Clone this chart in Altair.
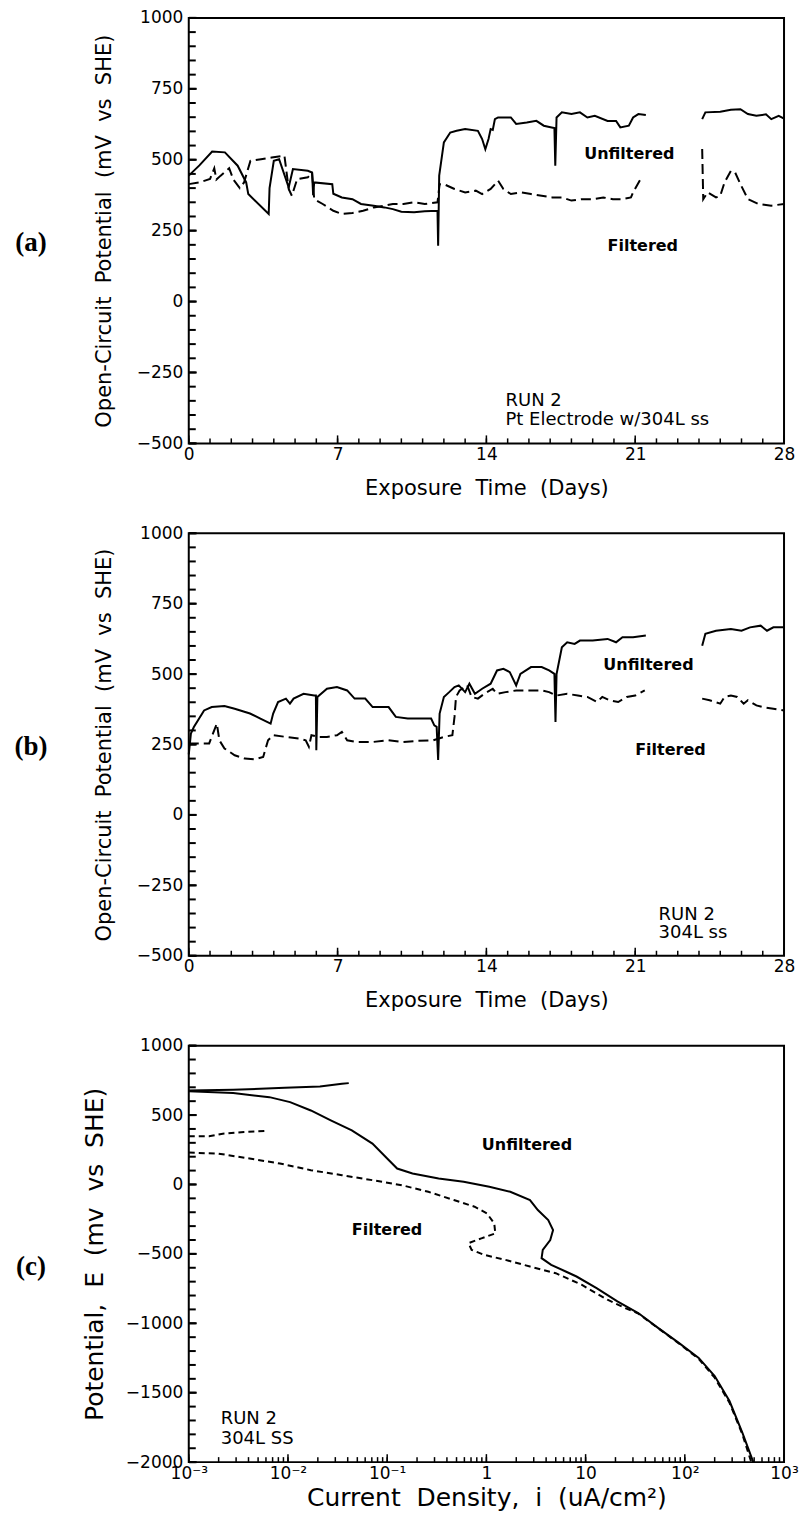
import altair as alt
import pandas as pd

FONT = "DejaVu Sans"
W = 596
SP = "\u00a0 "  # wide word gap used in the axis titles

# ---------------- (a) Pt electrode w/304L ss: open-circuit potential vs time ----------------
a_unf1_day = [0, 0.5, 1.1, 1.7, 2.3, 2.7, 2.8, 3.76, 3.8, 4.0, 4.25, 4.7, 4.9, 5.6, 5.8, 5.85, 5.9,
              6.75, 6.8, 7.2, 7.7, 8.1, 8.7, 9.2, 9.6, 10.0, 10.6, 11.1, 11.7, 11.73, 11.78, 12.0,
              12.3, 12.6, 13.0, 13.6, 13.8, 13.95, 14.1, 14.2, 14.3, 14.4, 14.55, 15.15, 15.4, 15.9,
              16.35, 16.7, 17.07, 17.2, 17.24, 17.3, 17.55, 18.0, 18.4, 18.75, 19.1, 19.7, 20.1,
              20.3, 20.7, 20.9, 21.15, 21.5]
a_unf1_mv = [444, 480, 529, 526, 479, 420, 379, 309, 400, 496, 502, 403, 467, 461, 455, 375, 420,
             414, 380, 367, 361, 344, 338, 332, 326, 317, 315, 318, 320, 197, 444, 561,
             596, 602, 608, 602, 573, 537, 573, 608, 605, 643, 649, 649, 626, 631,
             637, 620, 614, 612, 479, 649, 667, 661, 667, 649, 655, 637, 637,
             614, 620, 649, 661, 658]
a_unf2_day = [24.15, 24.3, 25.0, 25.5, 25.95, 26.3, 26.7, 27.15, 27.4, 27.75, 28.0]
a_unf2_mv = [643, 667, 669, 676, 678, 661, 655, 660, 643, 655, 645]

a_fil1_day = [0, 0.5, 1.0, 1.2, 1.3, 1.5, 1.9, 2.1, 2.4, 2.6, 2.9, 3.4, 3.9, 4.5, 4.7, 4.85, 5.1,
              5.6, 5.8, 5.9, 6.3, 6.8, 7.2, 7.7, 8.2, 8.7, 9.2, 9.6, 10.1, 10.6, 11.1, 11.7, 11.8,
              12.0, 12.5, 13.0, 13.5, 13.8, 14.2, 14.55, 14.8, 15.15, 15.6, 16.1, 16.6, 17.1,
              17.55, 18.0, 18.5, 19.0, 19.5, 19.95, 20.4, 20.8, 20.9, 21.3]
a_fil1_mv = [414, 420, 432, 470, 430, 444, 470, 430, 400, 420, 496, 502, 508, 514, 397, 373, 432,
             438, 455, 361, 344, 320, 309, 312, 320, 332, 338, 344, 344, 350, 344, 350, 414,
             414, 397, 385, 391, 379, 397, 426, 397, 379, 385, 379, 373, 367,
             367, 356, 361, 361, 367, 361, 361, 367, 385, 438]
a_fil2_day = [24.15, 24.2, 24.4, 24.8, 25.0, 25.2, 25.5, 25.7, 25.95, 26.3, 26.8, 27.4, 28.0]
a_fil2_mv = [538, 361, 385, 367, 373, 420, 461, 455, 414, 361, 344, 338, 344]

a_note_text = ["Unfiltered", "Filtered"]
a_note_day = [18.6, 19.7]
a_note_mv = [520, 197]
a_run_text = ["RUN 2", "Pt Electrode w/304L ss"]
a_run_day = [14.9, 14.9]
a_run_mv = [-349, -419]

# ---------------- (b) 304L ss: open-circuit potential vs time ----------------
b_unf1_day = [0, 0.1, 0.24, 0.72, 1.08, 1.68, 2.16, 2.88, 3.37, 3.85, 3.97, 4.2, 4.57, 4.76, 4.93,
              5.4, 5.9, 5.98, 6.0, 6.05, 6.5, 6.97, 7.45, 7.8, 8.3, 8.65, 9.4, 9.74, 10.3, 11.05,
              11.4, 11.55, 11.66, 11.73, 11.8, 12.0, 12.25, 12.5, 12.7, 13.0, 13.2, 13.46, 13.8,
              14.2, 14.5, 14.8, 15.1, 15.4, 15.6, 16.1, 16.6, 16.95, 17.2, 17.25, 17.3, 17.55,
              17.8, 18.15, 18.4, 19.0, 19.7, 20.1, 20.4, 20.9, 21.5]
b_unf1_mv = [215, 289, 312, 371, 383, 387, 377, 360, 342, 324, 360, 401, 413, 395, 413,
             430, 424, 424, 230, 419, 448, 454, 442, 413, 413, 383, 383, 348, 342, 342,
             342, 318, 313, 195, 360, 419, 436, 454, 460, 436, 466, 430, 448,
             466, 513, 519, 507, 460, 501, 525, 525, 513, 501, 330, 500, 595,
             613, 607, 619, 619, 625, 613, 631, 631, 637]
b_unf2_day = [24.15, 24.3, 24.8, 25.5, 26.0, 26.4, 26.9, 27.2, 27.5, 28.0]
b_unf2_mv = [601, 643, 654, 660, 654, 666, 672, 654, 666, 666]

b_fil1_day = [0, 0.96, 1.32, 1.44, 1.68, 2.16, 2.64, 3.1, 3.5, 3.73, 3.97, 4.57, 5.17, 5.5, 5.65,
              5.77, 6.1, 6.5, 6.97, 7.2, 7.45, 7.9, 8.65, 9.4, 10.1, 10.8, 11.5, 12.0, 12.4, 12.5,
              12.57, 12.74, 13.1, 13.3, 13.6, 13.9, 14.3, 14.5, 14.9, 15.4, 15.9, 16.6, 16.95,
              17.3, 17.8, 18.3, 18.75, 19.2, 19.45, 19.8, 20.2, 20.6, 21.0, 21.45]
b_fil1_mv = [254, 254, 324, 265, 236, 212, 200, 197, 206, 265, 283, 277, 271, 265, 242,
             283, 277, 277, 283, 295, 265, 259, 259, 265, 259, 263, 265, 277, 283, 348,
             419, 442, 460, 419, 413, 430, 448, 430, 436, 442, 442, 442, 436,
             424, 430, 424, 419, 401, 419, 407, 401, 419, 424, 442]
b_fil2_day = [24.15, 24.5, 25.0, 25.2, 25.5, 25.8, 26.1, 26.3, 26.7, 27.0, 27.5, 28.0]
b_fil2_mv = [413, 407, 395, 419, 424, 419, 395, 407, 389, 383, 377, 371]

b_note_text = ["Unfiltered", "Filtered"]
b_note_day = [19.5, 21.0]
b_note_mv = [531, 230]
b_run_text = ["RUN 2", "304L ss"]
b_run_day = [22.1, 22.1]
b_run_mv = [-354, -419]

# ---------------- (c) 304L SS: polarization curves ----------------
c_unf_anodic_i = [0.001, 0.0028, 0.0093, 0.021, 0.035, 0.041]
c_unf_anodic_mv = [677, 682, 696, 706, 725, 730]
c_unf_i = [0.001, 0.0028, 0.0065, 0.0105, 0.017, 0.027, 0.044, 0.071, 0.10, 0.126, 0.18, 0.33,
           0.59, 1.07, 1.74, 2.75, 3.3, 4.2, 4.7, 4.4, 3.7, 3.6, 4.5, 6.3, 8.1, 12.9, 20.9,
           33.9, 53.7, 87, 138, 200, 282, 380, 490]
c_unf_mv = [672, 658, 629, 593, 533, 462, 390, 294, 187, 115, 79, 43,
            19, -17, -53, -112, -184, -256, -328, -400, -471, -531, -579, -627, -663, -746, -842,
            -926, -1033, -1141, -1249, -1380, -1560, -1787, -2000]

c_fil_anodic_i = [0.001, 0.0016, 0.0022, 0.0036, 0.0059]
c_fil_anodic_mv = [347, 347, 366, 378, 385]
c_fil_i = [0.001, 0.002, 0.0041, 0.0083, 0.017, 0.035, 0.071, 0.14, 0.26, 0.47, 0.76, 1.01,
           1.2, 1.23, 0.89, 0.66, 0.71, 0.95, 1.55, 2.75, 5.0, 9.1, 16.6, 25, 34, 54, 87, 138,
           200, 282, 380, 468]
c_fil_mv = [230, 222, 187, 151, 103, 67, 31, -5, -53, -112, -160, -208,
            -280, -352, -388, -423, -471, -507, -543, -591, -639, -722, -830, -890, -930, -1036,
            -1145, -1256, -1392, -1572, -1799, -2000]

c_note_text = ["Unfiltered", "Filtered"]
c_note_i = [0.9, 0.044]
c_note_mv = [287, -328]
c_run_text = ["RUN 2", "304L SS"]
c_run_i = [0.0021, 0.0021]
c_run_mv = [-1691, -1835]

# axis tick positions and labels
t_major = [0, 7, 14, 21, 28]
t_minor = list(range(0, 29))
e_major = [-500, -250, 0, 250, 500, 750, 1000]
e_minor = list(range(-500, 1001, 50))
c_e_major = [-2000, -1500, -1000, -500, 0, 500, 1000]
c_e_minor = list(range(-2000, 1001, 100))
c_i_major = [0.001, 0.01, 0.1, 1, 10, 100, 1000]
c_i_labels = ["10\u207b\u00b3", "10\u207b\u00b2", "10\u207b\u00b9", "1", "10", "10\u00b2", "10\u00b3"]
c_i_minor = [m * d for d in [0.001, 0.01, 0.1, 1, 10, 100] for m in range(1, 10)] + [1000]


def frame(segments):
    rows, n = [], 0
    for k, (xs, ys) in enumerate(segments):
        for x, y in zip(xs, ys):
            rows.append({"x": x, "y": y, "seg": k, "i": n})
            n += 1
    return pd.DataFrame(rows)


def axis_common(**kw):
    return alt.Axis(ticks=False, domain=False, grid=False, labelFont=FONT, labelColor="black",
                    titleFont=FONT, titleColor="black", titleFontWeight="normal",
                    labelOverlap=False, labelFlush=False, **kw)


def panel(H, unf, fil, dash, xscale, yscale, xaxis, yaxis, notes, runs,
          x_major, x_minor, y_major, y_minor, letter, letter_y, note_size=16):
    # every layer carries the same axis definition so the shared axes merge cleanly
    X = lambda f: alt.X(f, scale=xscale, axis=xaxis)
    Y = lambda f: alt.Y(f, scale=yscale, axis=yaxis)
    solid = alt.Chart(frame(unf)).mark_line(color="black", strokeWidth=2).encode(
        x=X("x:Q"), y=Y("y:Q"), detail="seg:N", order="i:Q")
    dashed = alt.Chart(frame(fil)).mark_line(color="black", strokeWidth=2, strokeDash=dash).encode(
        x=X("x:Q"), y=Y("y:Q"), detail="seg:N", order="i:Q")

    ytick_major = alt.Chart(pd.DataFrame({"y": y_major})).mark_rule(color="black", strokeWidth=2).encode(
        y=Y("y:Q"), x=alt.value(0), x2=alt.value(8))
    ytick_minor = alt.Chart(pd.DataFrame({"y": y_minor})).mark_rule(color="black", strokeWidth=2).encode(
        y=Y("y:Q"), x=alt.value(0), x2=alt.value(7))
    xtick_major = alt.Chart(pd.DataFrame({"x": x_major})).mark_rule(color="black", strokeWidth=1.5).encode(
        x=X("x:Q"), y=alt.value(H), y2=alt.value(H - 8))
    xtick_minor = alt.Chart(pd.DataFrame({"x": x_minor})).mark_rule(color="black", strokeWidth=1.5).encode(
        x=X("x:Q"), y=alt.value(H), y2=alt.value(H - 5))

    nt, nx, ny = notes
    note_layer = alt.Chart(pd.DataFrame({"t": nt, "x": nx, "y": ny})).mark_text(
        align="left", baseline="middle", font=FONT, fontSize=note_size, fontWeight="bold",
        color="black").encode(x=X("x:Q"), y=Y("y:Q"), text="t:N")
    rt, rx, ry = runs
    run_layer = alt.Chart(pd.DataFrame({"t": rt, "x": rx, "y": ry})).mark_text(
        align="left", baseline="middle", font=FONT, fontSize=18, color="black").encode(
        x=X("x:Q"), y=Y("y:Q"), text="t:N")
    letter_layer = alt.Chart(pd.DataFrame({"t": [letter]})).mark_text(
        font="Liberation Serif", fontSize=27, fontWeight="bold", color="black").encode(
        x=alt.value(-158), y=alt.value(letter_y), text="t:N")

    return alt.layer(solid, dashed, ytick_major, ytick_minor, xtick_major, xtick_minor,
                     note_layer, run_layer, letter_layer).properties(width=W, height=H)


time_scale = alt.Scale(domain=[0, 28], nice=False, zero=False)
pot_scale = alt.Scale(domain=[-500, 1000], nice=False, zero=False)

time_axis = axis_common(values=t_major, format="d", title=SP.join(["Exposure", "Time", "(Days)"]),
                        labelFontSize=17, labelPadding=3, titleFontSize=21, titlePadding=15)
pot_axis = axis_common(values=e_major, format="d",
                       title=SP.join(["Open-Circuit", "Potential", "(mV", "vs", "SHE)"]),
                       labelFontSize=17, labelPadding=6, titleFontSize=21, titlePadding=22)

pa = panel(426,
           [(a_unf1_day, a_unf1_mv), (a_unf2_day, a_unf2_mv)],
           [(a_fil1_day, a_fil1_mv), (a_fil2_day, a_fil2_mv)],
           [10, 5], time_scale, pot_scale, time_axis, pot_axis,
           (a_note_text, a_note_day, a_note_mv), (a_run_text, a_run_day, a_run_mv),
           t_major, t_minor, e_major, e_minor, "(a)", 225)

pb = panel(423,
           [(b_unf1_day, b_unf1_mv), (b_unf2_day, b_unf2_mv)],
           [(b_fil1_day, b_fil1_mv), (b_fil2_day, b_fil2_mv)],
           [10, 5], time_scale, pot_scale, time_axis, pot_axis,
           (b_note_text, b_note_day, b_note_mv), (b_run_text, b_run_day, b_run_mv),
           t_major, t_minor, e_major, e_minor, "(b)", 214)

cur_scale = alt.Scale(type="log", domain=[0.001, 1000], nice=False)
cpot_scale = alt.Scale(domain=[-2000, 1000], nice=False, zero=False)
label_expr = " : ".join(
    f"datum.value < {v * 3.0} ? '{t}'" for v, t in zip(c_i_major[:-1], c_i_labels[:-1])
) + f" : '{c_i_labels[-1]}'"
cur_axis = axis_common(values=c_i_major, labelExpr=label_expr,
                       title=SP.join(["Current", "Density,", "i", "(uA/cm\u00b2)"]),
                       labelFontSize=17, labelPadding=3, titleFontSize=25, titlePadding=4)
cpot_axis = axis_common(values=c_e_major, format="d",
                        title=SP.join(["Potential,", "E", "(mv", "vs", "SHE)"]),
                        labelFontSize=17, labelPadding=6, titleFontSize=25, titlePadding=18)

pc = panel(417,
           [(c_unf_anodic_i, c_unf_anodic_mv), (c_unf_i, c_unf_mv)],
           [(c_fil_anodic_i, c_fil_anodic_mv), (c_fil_i, c_fil_mv)],
           [6, 4], cur_scale, cpot_scale, cur_axis, cpot_axis,
           (c_note_text, c_note_i, c_note_mv), (c_run_text, c_run_i, c_run_mv),
           c_i_major, c_i_minor, c_e_major, c_e_minor, "(c)", 222)

chart = alt.vconcat(pa, pb, pc, spacing=24).properties(
    padding={"left": 13, "top": 7, "right": 5, "bottom": 3},
    background="white",
).configure_view(stroke="black", strokeWidth=2)

chart.save("out.html", embed_options={"renderer": "svg", "actions": False})
